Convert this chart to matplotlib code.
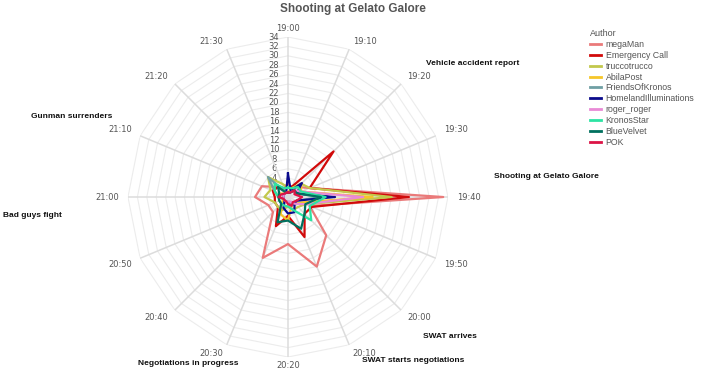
import numpy as np
import matplotlib.pyplot as plt
from matplotlib.lines import Line2D

plt.rcParams['font.family'] = ['Liberation Sans', 'DejaVu Sans']

# time axis (one spoke every 10 minutes)
times = ['19:00', '19:10', '19:20', '19:30', '19:40', '19:50', '20:00', '20:10',
         '20:20', '20:30', '20:40', '20:50', '21:00', '21:10', '21:20', '21:30']

# messages per author per 10-minute slot
megaMan = [3, 2, 3, 5, 33, 5, 11.5, 16, 10, 14, 4.5, 4.5, 7, 6, 3, 2]
emergency_call = [2, 2.5, 13.7, 5, 25.7, 5.5, 5, 9.2, 4, 6.7, 3, 3, 2.8, 3.5, 3, 2]
truccotrucco = [2, 2, 4, 5, 22, 4, 3, 3, 2, 3, 3, 3, 5, 4, 6, 3]
abila_post = [1, 2, 4, 3, 18, 3, 2, 2, 5, 4, 2, 1, 2, 2, 1, 1]
friends_of_kronos = [1, 1, 2, 2, 7, 2, 2, 2, 1, 1, 1, 1, 2, 3, 6, 1]
homeland = [5, 1.5, 4.2, 2, 10, 2, 2, 3.5, 3.5, 2.5, 1, 1, 1, 1, 1, 1]
roger_roger = [1, 1, 2, 3, 16, 4, 2, 1, 1, 1, 1, 1, 1, 1, 1, 1]
kronos_star = [2, 2, 3, 3, 8, 5, 7, 3, 2, 2, 2, 2, 2, 3, 4, 2]
blue_velvet = [1, 1, 2, 2, 7, 4, 5, 7.3, 5, 5.8, 2, 2, 2, 2, 3, 1]
pok = [1, 1, 2, 1.5, 3, 2, 1.5, 2, 1.5, 1, 1, 1, 2, 1.5, 1, 1]

authors = ['megaMan', 'Emergency Call', 'truccotrucco', 'AbilaPost', 'FriendsOfKronos',
           'HomelandIlluminations', 'roger_roger', 'KronosStar', 'BlueVelvet', 'POK']
series = [megaMan, emergency_call, truccotrucco, abila_post, friends_of_kronos,
          homeland, roger_roger, kronos_star, blue_velvet, pok]
colors = ['#ea7a7a', '#d10a0a', '#c2c84c', '#f6c629', '#6f9fa3',
          '#0b0b8c', '#e98ad6', '#2de3a3', '#00705e', '#dc1446']

events = ['Vehicle accident report', 'Shooting at Gelato Galore', 'SWAT arrives',
          'SWAT starts negotiations', 'Negotiations in progress', 'Bad guys fight',
          'Gunman surrenders']
# where the event labels sit (angle in degrees, radius in axis units)
event_pos = [(54, 48.4), (85.4, 55.2), (130.7, 45.5), (142.6, 43.7),
             (211, 41.3), (265.8, 54.5), (290.4, 49)]

rmax = 34
rings = np.arange(2, rmax + 1, 2)
theta = np.linspace(0, 2 * np.pi, len(times), endpoint=False)
theta_c = np.append(theta, theta[0])

fig = plt.figure(figsize=(7.07, 3.71), dpi=100)
ax = fig.add_axes([0.181, 0.0377, 0.4526, 0.8625], projection='polar')
ax.set_theta_zero_location('N')
ax.set_theta_direction(-1)
ax.set_ylim(0, rmax)
ax.spines['polar'].set_visible(False)
ax.set_facecolor('none')

# spokes
ax.set_xticks(theta)
ax.set_xticklabels([])
ax.xaxis.grid(True, color='#dcdcdc', linewidth=1.1)
ax.yaxis.grid(False)
ax.set_yticks([])

# time labels just outside the spoke ends
for t, lab in zip(theta, times):
    s, c = np.sin(t), np.cos(t)
    ha = 'left' if s > 0.1 else ('right' if s < -0.1 else 'center')
    va = 'bottom' if c > 0.1 else ('top' if c < -0.1 else 'center')
    ax.annotate(lab, (t, rmax), xytext=(9 * s, 4 * c), textcoords='offset pixels',
                ha=ha, va=va, fontsize=6, color='#555555', family='DejaVu Sans',
                annotation_clip=False)

# polygon rings
for r in rings:
    ax.plot(theta_c, [r] * len(theta_c), color='#ececec', linewidth=0.8, zorder=1)
    ax.annotate(str(r), (0, r), xytext=(-10, 0), textcoords='offset points',
                ha='center', va='center', fontsize=6, color='#555555',
                family='DejaVu Sans', zorder=1.5)

# author lines
for name, vals, c in zip(authors, series, colors):
    v = np.append(vals, vals[0])
    ax.plot(theta_c, v, color=c, linewidth=1.6, zorder=3)

# event labels
for txt, (ang, r) in zip(events, event_pos):
    ax.text(np.deg2rad(ang), r, txt, ha='center', va='center', fontsize=6,
            fontweight='bold', color='#111111', clip_on=False)

fig.text(353 / 707, 1 - 9 / 371, 'Shooting at Gelato Galore', ha='center', va='center',
         fontsize=8.5, fontweight='bold', color='#555555')

handles = [Line2D([], [], color=c, linewidth=2) for c in colors]
leg = fig.legend(handles, authors, title='Author', loc='upper left',
                 bbox_to_anchor=(582 / 707, 1 - 21 / 371), frameon=False,
                 fontsize=6.3, title_fontsize=6.5, handlelength=1.3,
                 handletextpad=0.5, labelspacing=0.22, alignment='left')
for t in leg.get_texts():
    t.set_color('#555555')
leg.get_title().set_color('#555555')

fig.savefig('out.png', dpi=100)
